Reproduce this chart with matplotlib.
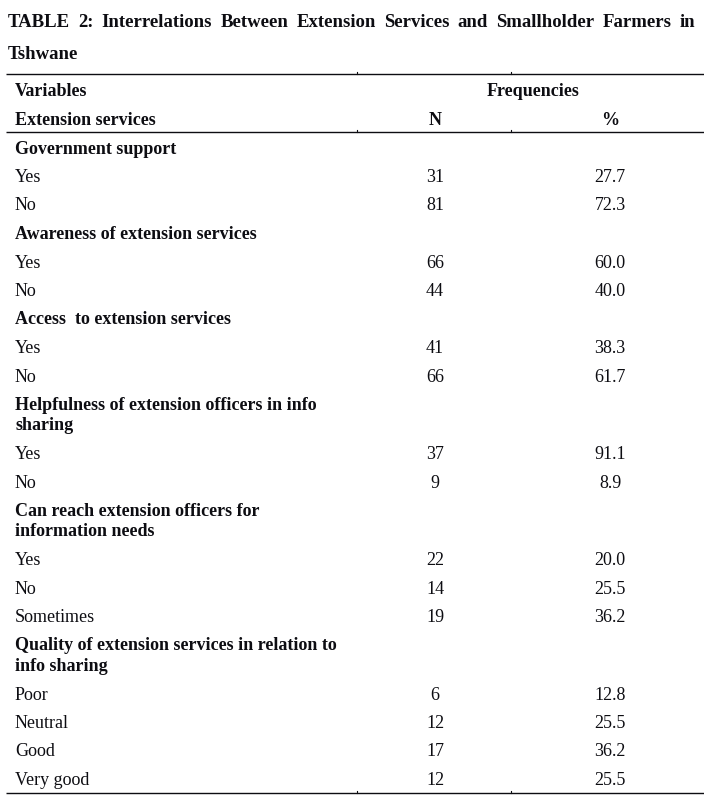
import matplotlib
matplotlib.use("Agg")
import matplotlib.pyplot as plt

plt.rcParams['font.family'] = ['Liberation Serif', 'DejaVu Serif']

title_line1 = "TABLE 2: Interrelations Between Extension Services and Smallholder Farmers in"
title_line2 = "Tshwane"

sections = [
    "Government support",
    "Awareness of extension services",
    "Access  to extension services",
    "Helpfulness of extension officers in info\nsharing",
    "Can reach extension officers for\ninformation needs",
    "Quality of extension services in relation to\ninfo sharing",
]
categories = [
    ["Yes", "No"],
    ["Yes", "No"],
    ["Yes", "No"],
    ["Yes", "No"],
    ["Yes", "No", "Sometimes"],
    ["Poor", "Neutral", "Good", "Very good"],
]
counts = [[31, 81], [66, 44], [41, 66], [37, 9], [22, 14, 19], [6, 12, 17, 12]]
percents = [[27.7, 72.3], [60.0, 40.0], [38.3, 61.7], [91.1, 8.9],
            [20.0, 25.5, 36.2], [12.8, 25.5, 36.2, 25.5]]

W, H = 704, 802
fig = plt.figure(figsize=(W / 100, H / 100), dpi=100)
ax = fig.add_axes([0, 0, 1, 1])
ax.set_xlim(0, W)
ax.set_ylim(H, 0)
ax.axis('off')

ink = '#0d0d12'
body = 13
tsize = 13.5
x_left = 15
x_n = 435
x_pct = 610

# justified first title line
renderer = fig.canvas.get_renderer()
words = title_line1.split()
objs = [ax.text(0, 27, w, fontsize=tsize, fontweight='bold', color=ink, va='baseline') for w in words]
widths = [o.get_window_extent(renderer).width for o in objs]
gap = (695 - 8 - sum(widths)) / (len(words) - 1)
x = 8
for o, wd in zip(objs, widths):
    o.set_x(x)
    x += wd + gap
ax.text(8, 59, title_line2, fontsize=tsize, fontweight='bold', color=ink, va='baseline')

# rules
for yr in [74, 132, 793]:
    ax.plot([6, W], [yr, yr], color=ink, lw=1.0, solid_capstyle='butt')
    for xt in [357, 511]:
        ax.plot([xt, xt], [yr - 2, yr], color=ink, lw=0.8)

# header
ax.text(x_left, 96, "Variables", fontsize=body, fontweight='bold', color=ink, va='baseline')
ax.text(533, 96, "Frequencies", fontsize=body, fontweight='bold', color=ink, va='baseline', ha='center')
ax.text(x_left, 125, "Extension services", fontsize=body, fontweight='bold', color=ink, va='baseline')
ax.text(x_n, 125, "N", fontsize=body, fontweight='bold', color=ink, va='baseline', ha='center')
ax.text(x_pct, 125, "%", fontsize=body, fontweight='bold', color=ink, va='baseline', ha='center')

# body rows
y = 153.5
step = 28.5
wrap = 20.5
for sec, cats, ns, ps in zip(sections, categories, counts, percents):
    lines = sec.split("\n")
    for i, ln in enumerate(lines):
        ax.text(x_left, y, ln, fontsize=body, fontweight='bold', color=ink, va='baseline')
        if i < len(lines) - 1:
            y += wrap
    y += step
    for c, n, p in zip(cats, ns, ps):
        ax.text(x_left, y, c, fontsize=body, color=ink, va='baseline')
        ax.text(x_n, y, str(n), fontsize=body, color=ink, va='baseline', ha='center')
        ax.text(x_pct, y, f"{p:.1f}", fontsize=body, color=ink, va='baseline', ha='center')
        y += step

fig.savefig("out.png", dpi=100, facecolor='white')
